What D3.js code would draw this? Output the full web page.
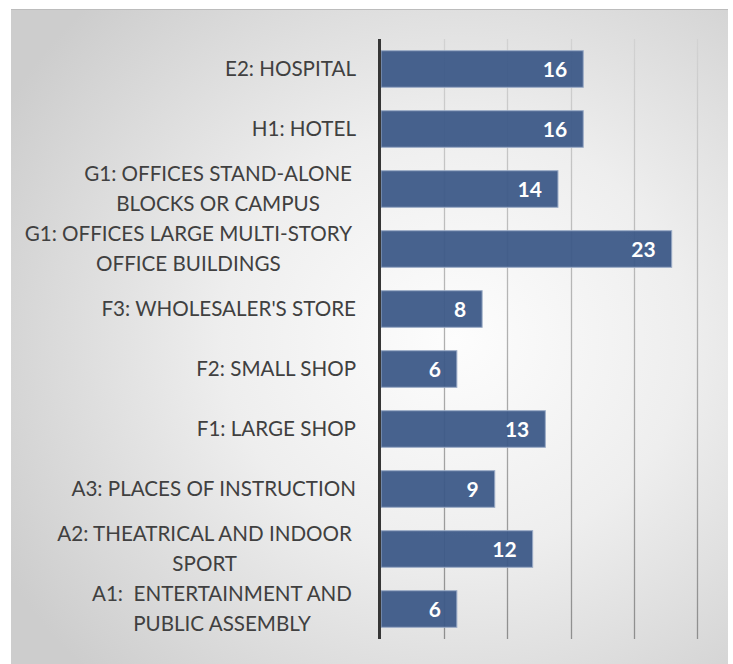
<!DOCTYPE html>
<html>
<head>
<meta charset="utf-8">
<script src="https://cdn.jsdelivr.net/npm/d3@7"></script>
<style>
  html, body { margin: 0; padding: 0; background: #fff; }
  svg { display: block; }
  text { white-space: pre; }
</style>
</head>
<body>
<svg id="chart" width="733" height="664"></svg>
<script>
// categories top to bottom, each split into its display lines
const categories = [
    ["E2: HOSPITAL"],
    ["H1: HOTEL"],
    ["G1: OFFICES STAND-ALONE", "BLOCKS OR CAMPUS"],
    ["G1: OFFICES LARGE MULTI-STORY", "OFFICE BUILDINGS"],
    ["F3: WHOLESALER'S STORE"],
    ["F2: SMALL SHOP"],
    ["F1: LARGE SHOP"],
    ["A3: PLACES OF INSTRUCTION"],
    ["A2: THEATRICAL AND INDOOR", "SPORT"],
    ["A1:  ENTERTAINMENT AND", "PUBLIC ASSEMBLY"]
];
const values = [16, 16, 14, 23, 8, 6, 13, 9, 12, 6];
const gridTicks = [5, 10, 15, 20, 25];

function drawChart() {
    const svg = d3.select("#chart");
    svg.selectAll("*").remove();

    const defs = svg.append("defs");
    const bg = defs.append("radialGradient")
        .attr("id", "bgGrad")
        .attr("cx", "0.62").attr("cy", "0.5").attr("r", "0.72");
    bg.append("stop").attr("offset", "0").attr("stop-color", "#fdfdfd");
    bg.append("stop").attr("offset", "0.45").attr("stop-color", "#eeeeee");
    bg.append("stop").attr("offset", "1").attr("stop-color", "#cdcdcd");

    const gridGrad = defs.append("linearGradient")
        .attr("id", "gridGrad")
        .attr("gradientUnits", "userSpaceOnUse")
        .attr("x1", 0).attr("y1", 39).attr("x2", 0).attr("y2", 639);
    gridGrad.append("stop").attr("offset", "0").attr("stop-color", "#d2d2d2");
    gridGrad.append("stop").attr("offset", "1").attr("stop-color", "#8e8e8e");

    // chart area background
    svg.append("rect")
        .attr("x", 11).attr("y", 9)
        .attr("width", 717).attr("height", 660)
        .attr("fill", "url(#bgGrad)");
    svg.append("line")
        .attr("x1", 11).attr("x2", 728).attr("y1", 9.5).attr("y2", 9.5)
        .attr("stroke", "#bcbcbc");

    const x = d3.scaleLinear().domain([0, 25]).range([381, 697]);
    const y = d3.scaleBand()
        .domain(d3.range(categories.length))
        .range([39, 639])
        .paddingInner(0.39)
        .paddingOuter(0.195);

    // gridlines
    svg.append("g")
        .selectAll("line")
        .data(gridTicks)
        .enter().append("line")
        .attr("x1", d => Math.round(x(d)) + 0.5)
        .attr("x2", d => Math.round(x(d)) + 0.5)
        .attr("y1", 39).attr("y2", 639)
        .attr("stroke", "url(#gridGrad)")
        .attr("stroke-width", 1.3);

    // bars
    svg.append("g")
        .selectAll("rect")
        .data(values)
        .enter().append("rect")
        .attr("x", x(0))
        .attr("y", (d, i) => y(i))
        .attr("width", d => x(d) - x(0))
        .attr("height", y.bandwidth())
        .attr("fill", "#3c5887")
        .attr("fill-opacity", 0.94)
        .attr("stroke", "#9aabc6")
        .attr("stroke-width", 1);

    // value labels
    svg.append("g")
        .selectAll("text")
        .data(values)
        .enter().append("text")
        .attr("x", d => x(d) - 16)
        .attr("y", (d, i) => y(i) + y.bandwidth() / 2)
        .attr("dy", "0.37em")
        .attr("text-anchor", "end")
        .attr("fill", "#fff")
        .style("font-family", "Lato, 'Open Sans', sans-serif")
        .style("font-weight", "bold")
        .style("font-size", "21px")
        .text(d => d);

    // axis line
    svg.append("line")
        .attr("x1", 379.5).attr("x2", 379.5)
        .attr("y1", 39).attr("y2", 639)
        .attr("stroke", "#363636")
        .attr("stroke-width", 3);

    // category labels (multi-line blocks centered, block right-aligned)
    const lab = svg.append("g")
        .selectAll("g")
        .data(categories)
        .enter().append("g");

    lab.each(function (lines, i) {
        const g = d3.select(this);
        const cy = y(i) + y.bandwidth() / 2;
        const lh = 30;
        const texts = lines.map((t, k) => g.append("text")
            .attr("y", cy + (k - (lines.length - 1) / 2) * lh)
            .attr("dy", "0.36em")
            .attr("text-anchor", "middle")
            .attr("fill", "#404040")
            .style("font-family", "Lato, 'Open Sans', sans-serif")
            .style("font-size", "20.6px")
            .text(t));
        const w = d3.max(texts, t => t.node().getComputedTextLength());
        const right = lines.length > 1 ? 352 : 356;
        texts.forEach(t => t.attr("x", right - w / 2));
    });
}

drawChart();
</script>
</body>
</html>
